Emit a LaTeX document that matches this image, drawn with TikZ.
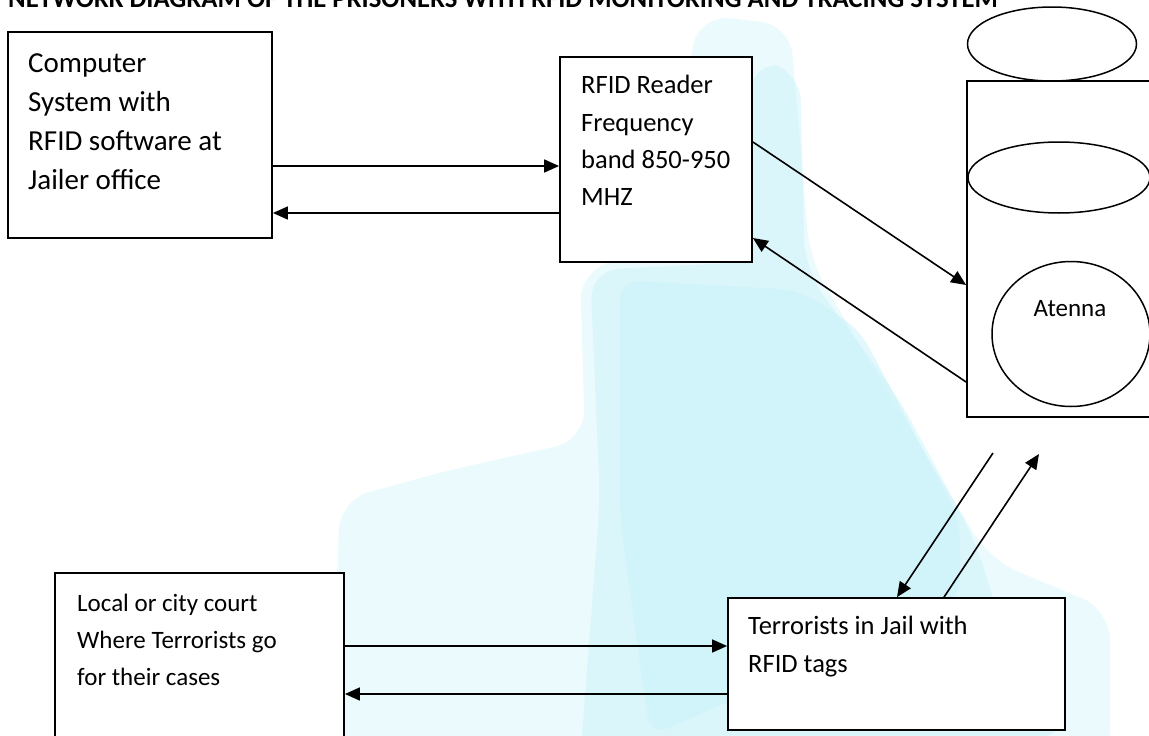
\documentclass[tikz,border=0pt]{standalone}
\usepackage{fontspec}
\setmainfont{Carlito}
\usetikzlibrary{arrows.meta,shapes.geometric}
\definecolor{wm}{RGB}{200,242,250}
\tikzset{
  boxnode/.style={draw=black,line width=1.8pt,fill=white,rectangle,inner sep=0pt},
  ellnode/.style={draw=black,line width=1.5pt,fill=white,ellipse,inner sep=0pt},
  lbl/.style={anchor=base west,inner sep=0pt,text=black},
  conn/.style={line width=1.6pt,-{Triangle[length=15pt,width=13pt]}},
  wmark/.style={fill=wm,rounded corners=30pt},
}
\begin{document}
\begin{tikzpicture}[x=1pt,y=-1pt]
\useasboundingbox (0,0) rectangle (1149,736);
\clip (0,0) rectangle (1149,736);
\fill[white] (0,0) rectangle (1149,736);
% faint watermark
\begin{scope}[opacity=0.35]
\fill[wmark] (700,15) -- (790,25) -- (810,260) -- (880,380) -- (990,560) -- (1110,610) -- (1110,760) -- (330,760) -- (340,500) -- (450,470) -- (585,440) -- (580,270) -- (660,250) -- (690,60) -- cycle;
\end{scope}
\begin{scope}[opacity=0.45]
\fill[wmark] (752,60) -- (800,70) -- (805,270) -- (900,400) -- (975,540) -- (1000,620) -- (1070,736) -- (580,760) -- (600,500) -- (590,270) -- (752,262) -- cycle;
\end{scope}
\begin{scope}[opacity=0.5]
\fill[wmark,rounded corners=20pt] (800,290) -- (860,330) -- (960,520) -- (960,600) -- (650,736) -- (620,520) -- (620,280) -- cycle;
\end{scope}
% title
\node[lbl,font=\fontsize{26.7}{26.7}\selectfont\bfseries] (title) at (8,7) {NETWORK DIAGRAM OF THE PRISONERS WITH RFID MONITORING AND TRACING SYSTEM};
% boxes
\node[boxnode,minimum width=264pt,minimum height=206pt] (comp) at (140,135) {};
\node[boxnode,minimum width=192pt,minimum height=205pt] (reader) at (656,159.5) {};
\node[boxnode,minimum width=198pt,minimum height=336pt] (ant) at (1066,249) {};
\node[boxnode,minimum width=337pt,minimum height=132pt] (jail) at (896.5,664) {};
\node[boxnode,minimum width=289pt,minimum height=200pt] (court) at (199.5,673) {};
% ellipses
\node[ellnode,minimum width=169pt,minimum height=74pt] (e1) at (1052,44) {};
\node[ellnode,minimum width=182pt,minimum height=71pt] (e2) at (1059,177.5) {};
\node[ellnode,minimum width=158pt,minimum height=145pt] (e3) at (1071,334) {};
% texts
\begin{scope}[font=\fontsize{29}{29}\selectfont]
\node[lbl] (c1) at (28,72) {Computer};
\node[lbl] (c2) at (28,111) {System with};
\node[lbl] (c3) at (28,150) {RFID software at};
\node[lbl] (c4) at (28,189) {Jailer office};
\end{scope}
\begin{scope}[font=\fontsize{26.5}{26.5}\selectfont]
\node[lbl] (r1) at (581,93) {RFID Reader};
\node[lbl] (r2) at (581,131) {Frequency};
\node[lbl] (r3) at (581,168.5) {band 850-950};
\node[lbl] (r4) at (581,205.5) {MHZ};
\end{scope}
\node[anchor=base,inner sep=0pt,font=\fontsize{25}{25}\selectfont] (at) at (1070,316) {Atenna};
\begin{scope}[font=\fontsize{26.5}{26.5}\selectfont]
\node[lbl] (j1) at (748,634) {Terrorists in Jail with};
\node[lbl] (j2) at (748,672) {RFID tags};
\end{scope}
\begin{scope}[font=\fontsize{25}{25}\selectfont]
\node[lbl] (k1) at (77,611) {Local or city court};
\node[lbl] (k2) at (77,648) {Where Terrorists go};
\node[lbl] (k3) at (77,685) {for their cases};
\end{scope}
% connectors
\draw[conn] (comp.east |- 0,166) -- (reader.west |- 0,166);
\draw[conn] (reader.west |- 0,213) -- (comp.east |- 0,213);
\draw[conn] (reader.east |- 0,142) -- (ant.west |- 0,285);
\draw[conn] (ant.west |- 0,382) -- (reader.east |- 0,238);
\coordinate (f1) at (993,453);
\coordinate (f2) at (1039,454);
\draw[conn] (f1) -- (jail.north -| 897,0);
\draw[conn] (jail.north -| 944,0) -- (f2);
\draw[conn] (court.east |- 0,646) -- (jail.west |- 0,646);
\draw[conn] (jail.west |- 0,694) -- (court.east |- 0,694);
\end{tikzpicture}
\end{document}
